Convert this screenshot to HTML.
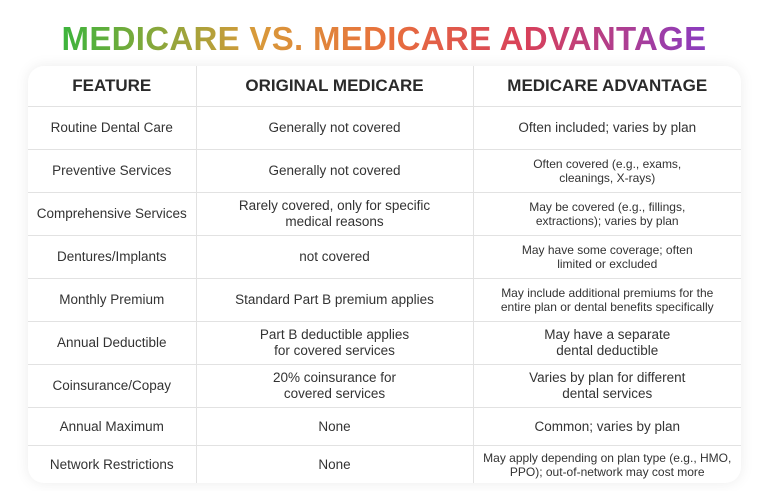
<!DOCTYPE html>
<html><head><meta charset="utf-8">
<style>
html,body{margin:0;padding:0;background:#fff;width:768px;height:491px;overflow:hidden;font-family:"Liberation Sans",sans-serif}
#title{position:absolute;left:0;top:19px;width:768px;text-align:center;font-family:"Liberation Sans Narrow","Liberation Sans",sans-serif;font-weight:bold;font-size:33px;line-height:40px;letter-spacing:0.3px}
#title span{background:linear-gradient(90deg,#3cb43c 0%,#d89a3a 30%,#e8713c 50%,#d8405a 72%,#8a3cc0 100%);-webkit-background-clip:text;background-clip:text;color:transparent}
#card{position:absolute;left:28px;top:66px;width:713px;height:417px;background:#fff;border-radius:16px;box-shadow:0 0 14px rgba(0,0,0,0.08);overflow:hidden}
table{border-collapse:collapse;width:713px;table-layout:fixed}
td,th{border-right:1px solid #e2e2e2;border-bottom:1px solid #e2e2e2;text-align:center;vertical-align:middle;color:#333;padding:0 8px;font-size:13.5px;line-height:16px}
td:last-child,th:last-child{border-right:none}
tr:last-child td{border-bottom:none}
th{font-family:"Liberation Sans Narrow","Liberation Sans",sans-serif;font-size:17px;font-weight:bold;height:40px;color:#2a2a2a}
td.s{font-size:12px;line-height:14px}
</style></head><body>
<div id="title"><span>MEDICARE VS. MEDICARE ADVANTAGE</span></div>
<div id="card">
<table>
<colgroup><col style="width:168px"><col style="width:277px"><col style="width:268px"></colgroup>
<tr><th>FEATURE</th><th>ORIGINAL MEDICARE</th><th>MEDICARE ADVANTAGE</th></tr>
<tr style="height:43px"><td>Routine Dental Care</td><td>Generally not covered</td><td>Often included; varies by plan</td></tr>
<tr style="height:43px"><td>Preventive Services</td><td>Generally not covered</td><td class="s">Often covered (e.g., exams,<br>cleanings, X-rays)</td></tr>
<tr style="height:43px"><td>Comprehensive Services</td><td>Rarely covered, only for specific<br>medical reasons</td><td class="s">May be covered (e.g., fillings,<br>extractions); varies by plan</td></tr>
<tr style="height:43px"><td>Dentures/Implants</td><td>not covered</td><td class="s">May have some coverage; often<br>limited or excluded</td></tr>
<tr style="height:43px"><td>Monthly Premium</td><td>Standard Part B premium applies</td><td class="s">May include additional premiums for the<br>entire plan or dental benefits specifically</td></tr>
<tr style="height:43px"><td>Annual Deductible</td><td>Part B deductible applies<br>for covered services</td><td>May have a separate<br>dental deductible</td></tr>
<tr style="height:43px"><td>Coinsurance/Copay</td><td>20% coinsurance for<br>covered services</td><td>Varies by plan for different<br>dental services</td></tr>
<tr style="height:38px"><td>Annual Maximum</td><td>None</td><td>Common; varies by plan</td></tr>
<tr style="height:38px"><td>Network Restrictions</td><td>None</td><td class="s">May apply depending on plan type (e.g., HMO,<br>PPO); out-of-network may cost more</td></tr>
</table>
</div>
</body></html>
